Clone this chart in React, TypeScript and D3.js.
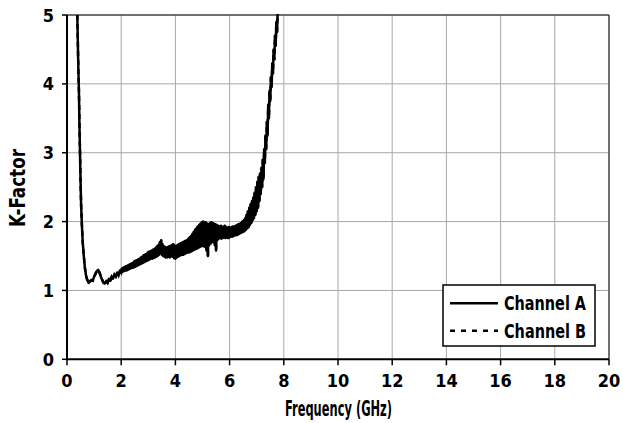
import React from "react";
import * as d3 from "d3";

const xTicks = [0, 2, 4, 6, 8, 10, 12, 14, 16, 18, 20];
const yTicks = [0, 1, 2, 3, 4, 5];
const seriesNames = ["Channel A", "Channel B"];
const xTitle = "Frequency (GHz)";
const yTitle = "K-Factor";

const channelA: [number, number][] = [
  [0.38, 5.0], [0.40, 4.6], [0.42, 4.2], [0.44, 3.9], [0.46, 3.4], [0.48, 3.0], [0.50, 2.6],
  [0.52, 2.25], [0.55, 1.95], [0.58, 1.7], [0.62, 1.5], [0.66, 1.33], [0.70, 1.22], [0.75, 1.15],
  [0.80, 1.11], [0.85, 1.13], [0.90, 1.15], [0.95, 1.14], [1.00, 1.2], [1.05, 1.24], [1.10, 1.28],
  [1.15, 1.3], [1.20, 1.26], [1.25, 1.2], [1.30, 1.15], [1.35, 1.11], [1.40, 1.1], [1.45, 1.14],
  [1.50, 1.11], [1.55, 1.17], [1.60, 1.14], [1.65, 1.2], [1.70, 1.17], [1.75, 1.23], [1.80, 1.2],
  [1.85, 1.26], [1.90, 1.22], [1.95, 1.29], [2.000, 1.26], [2.025, 1.32], [2.050, 1.27], [2.075, 1.33],
  [2.100, 1.28], [2.125, 1.34], [2.150, 1.29], [2.175, 1.35], [2.200, 1.29], [2.225, 1.36], [2.250, 1.30],
  [2.275, 1.37], [2.300, 1.31], [2.325, 1.38], [2.350, 1.32], [2.375, 1.39], [2.400, 1.33], [2.425, 1.40],
  [2.450, 1.33], [2.475, 1.42], [2.500, 1.34], [2.525, 1.43], [2.550, 1.35], [2.575, 1.44], [2.600, 1.36],
  [2.625, 1.45], [2.650, 1.37], [2.675, 1.46], [2.700, 1.38], [2.725, 1.48], [2.750, 1.39], [2.775, 1.49],
  [2.800, 1.40], [2.825, 1.51], [2.850, 1.41], [2.875, 1.52], [2.900, 1.42], [2.925, 1.53], [2.950, 1.43],
  [2.975, 1.55], [3.000, 1.44], [3.025, 1.56], [3.050, 1.45], [3.075, 1.57], [3.100, 1.46], [3.125, 1.58],
  [3.150, 1.46], [3.175, 1.59], [3.200, 1.47], [3.225, 1.60], [3.250, 1.48], [3.275, 1.62], [3.300, 1.49],
  [3.325, 1.64], [3.350, 1.50], [3.375, 1.66], [3.400, 1.52], [3.425, 1.70], [3.450, 1.55], [3.475, 1.73],
  [3.500, 1.52], [3.525, 1.67], [3.550, 1.50], [3.575, 1.64], [3.600, 1.49], [3.625, 1.63], [3.650, 1.48],
  [3.675, 1.62], [3.700, 1.48], [3.725, 1.63], [3.750, 1.49], [3.775, 1.64], [3.800, 1.48], [3.825, 1.65],
  [3.850, 1.50], [3.875, 1.66], [3.900, 1.49], [3.925, 1.67], [3.950, 1.47], [3.975, 1.65], [4.000, 1.46],
  [4.025, 1.64], [4.050, 1.48], [4.075, 1.66], [4.100, 1.49], [4.125, 1.67], [4.150, 1.50], [4.175, 1.68],
  [4.200, 1.51], [4.225, 1.69], [4.250, 1.52], [4.275, 1.70], [4.300, 1.52], [4.325, 1.71], [4.350, 1.53],
  [4.375, 1.72], [4.400, 1.54], [4.425, 1.73], [4.450, 1.55], [4.475, 1.75], [4.500, 1.55], [4.525, 1.77],
  [4.550, 1.56], [4.575, 1.79], [4.600, 1.57], [4.625, 1.82], [4.650, 1.58], [4.675, 1.85], [4.700, 1.59],
  [4.725, 1.88], [4.750, 1.60], [4.775, 1.90], [4.800, 1.61], [4.825, 1.93], [4.850, 1.62], [4.875, 1.95],
  [4.900, 1.63], [4.925, 1.97], [4.950, 1.64], [4.975, 1.99], [5.000, 1.65], [5.025, 2.00], [5.050, 1.64],
  [5.075, 1.98], [5.100, 1.63], [5.125, 1.99], [5.150, 1.58], [5.175, 1.97], [5.200, 1.50], [5.225, 1.96],
  [5.250, 1.66], [5.275, 1.98], [5.300, 1.68], [5.325, 1.99], [5.350, 1.70], [5.375, 1.98], [5.400, 1.71],
  [5.425, 1.97], [5.450, 1.66], [5.475, 1.96], [5.500, 1.58], [5.525, 1.95], [5.550, 1.73], [5.575, 1.94],
  [5.600, 1.75], [5.625, 1.93], [5.650, 1.76], [5.675, 1.94], [5.700, 1.75], [5.725, 1.92], [5.750, 1.76],
  [5.775, 1.93], [5.800, 1.77], [5.825, 1.94], [5.850, 1.76], [5.875, 1.92], [5.900, 1.77], [5.925, 1.91],
  [5.950, 1.76], [5.975, 1.92], [6.000, 1.77], [6.025, 1.91], [6.050, 1.78], [6.075, 1.92], [6.100, 1.78],
  [6.125, 1.93], [6.150, 1.79], [6.175, 1.93], [6.200, 1.80], [6.225, 1.94], [6.250, 1.80], [6.275, 1.95],
  [6.300, 1.81], [6.325, 1.96], [6.350, 1.82], [6.375, 1.97], [6.400, 1.83], [6.425, 1.98], [6.450, 1.84],
  [6.475, 2.00], [6.500, 1.85], [6.525, 2.02], [6.550, 1.86], [6.575, 2.05], [6.600, 1.88], [6.625, 2.10],
  [6.650, 1.90], [6.675, 2.15], [6.700, 1.92], [6.725, 2.20], [6.750, 1.95], [6.775, 2.25], [6.800, 1.98],
  [6.825, 2.30], [6.850, 2.02], [6.875, 2.35], [6.900, 2.05], [6.925, 2.42], [6.950, 2.10], [6.975, 2.50],
  [7.000, 2.15], [7.025, 2.58], [7.050, 2.20], [7.075, 2.65], [7.100, 2.30], [7.125, 2.70], [7.150, 2.40],
  [7.175, 2.78], [7.200, 2.50], [7.225, 2.90], [7.250, 2.62], [7.275, 3.05], [7.300, 2.85], [7.325, 3.25],
  [7.350, 3.05], [7.375, 3.45], [7.400, 3.25], [7.425, 3.70], [7.450, 3.50], [7.475, 3.90], [7.500, 3.75],
  [7.525, 4.10], [7.550, 3.95], [7.575, 4.30], [7.600, 4.15], [7.625, 4.50], [7.650, 4.35], [7.675, 4.70],
  [7.700, 4.55], [7.725, 4.90], [7.750, 4.75], [7.775, 5.05], [7.800, 5.1],
];
const channelB: [number, number][] = channelA;

const W = 623;
const H = 423;
const M = { left: 67, right: 609, top: 15, bottom: 359.3 };
const FONT = "'DejaVu Sans Condensed', 'DejaVu Sans', sans-serif";

export default function App() {
  const x = d3.scaleLinear().domain([0, 20]).range([M.left, M.right]);
  const y = d3.scaleLinear().domain([0, 5]).range([M.bottom, M.top]);
  const line = d3
    .line<[number, number]>()
    .x((d) => x(d[0]))
    .y((d) => y(d[1]));

  return (
    <svg
      width={W}
      height={H}
      style={{ position: "absolute", left: 0, top: 0, background: "#fff" }}
      fontFamily={FONT}
      fontWeight="bold"
    >
      <defs>
        <clipPath id="plotclip">
          <rect x={M.left} y={M.top - 1} width={M.right - M.left} height={M.bottom - M.top + 1} />
        </clipPath>
      </defs>
      {xTicks.slice(1, -1).map((t) => (
        <line key={"gx" + t} x1={x(t)} x2={x(t)} y1={M.top} y2={M.bottom} stroke="#a8a8a8" strokeWidth={1} />
      ))}
      {yTicks.slice(1, -1).map((t) => (
        <line key={"gy" + t} x1={M.left} x2={M.right} y1={y(t)} y2={y(t)} stroke="#a8a8a8" strokeWidth={1} />
      ))}
      <line x1={M.left} x2={M.right} y1={M.top} y2={M.top} stroke="#404040" strokeWidth={1.5} />
      <line x1={M.right} x2={M.right} y1={M.top} y2={M.bottom} stroke="#404040" strokeWidth={1.5} />
      <g clipPath="url(#plotclip)">
        <path d={line(channelB) || ""} fill="none" stroke="#000" strokeWidth={2.5} strokeDasharray="5,4" />
        <path d={line(channelA) || ""} fill="none" stroke="#000" strokeWidth={2.5} strokeLinejoin="round" />
      </g>
      <line x1={M.left} x2={M.left} y1={M.top} y2={M.bottom} stroke="#000" strokeWidth={2} />
      <line x1={M.left} x2={M.right} y1={M.bottom} y2={M.bottom} stroke="#000" strokeWidth={2} />
      {xTicks.map((t) => (
        <g key={"xt" + t}>
          <line x1={x(t)} x2={x(t)} y1={M.bottom} y2={M.bottom + 6} stroke="#000" strokeWidth={1.5} />
          <text x={x(t)} y={387} textAnchor="middle" fontSize={18}>
            {t}
          </text>
        </g>
      ))}
      {yTicks.map((t) => (
        <g key={"yt" + t}>
          <line x1={M.left - 5} x2={M.left} y1={y(t)} y2={y(t)} stroke="#000" strokeWidth={1.5} />
          <text x={54} y={y(t) + 6.5} textAnchor="end" fontSize={18}>
            {t}
          </text>
        </g>
      ))}
      <text x={285} y={416} fontSize={21} textLength={107} lengthAdjust="spacingAndGlyphs">
        {xTitle}
      </text>
      <text
        transform={`translate(25, 227) rotate(-90)`}
        fontSize={21}
        textLength={78}
        lengthAdjust="spacingAndGlyphs"
      >
        {yTitle}
      </text>
      <rect x={443} y={285} width={152} height={61} fill="#fff" stroke="#000" strokeWidth={1.5} />
      <line x1={450} x2={498} y1={303.3} y2={303.3} stroke="#000" strokeWidth={2.4} />
      <line x1={450} x2={498} y1={330.7} y2={330.7} stroke="#000" strokeWidth={2.4} strokeDasharray="5,6" />
      <text x={504} y={310} fontSize={20} textLength={82} lengthAdjust="spacingAndGlyphs">
        {seriesNames[0]}
      </text>
      <text x={504} y={337.5} fontSize={20} textLength={82} lengthAdjust="spacingAndGlyphs">
        {seriesNames[1]}
      </text>
    </svg>
  );
}
